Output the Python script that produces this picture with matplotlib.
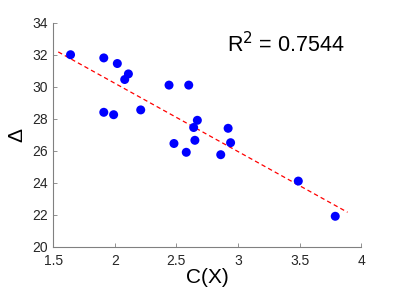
import numpy as np
import matplotlib
matplotlib.use("Agg")
import matplotlib.pyplot as plt

plt.rcParams["font.family"] = ["Liberation Sans", "DejaVu Sans"]

# complexity C(X) vs delta
cx = [1.64, 1.91, 2.02, 2.11, 2.08, 1.91, 1.99, 2.21, 2.44, 2.60,
      2.67, 2.64, 2.65, 2.48, 2.58, 2.92, 2.94, 2.86, 3.49, 3.79]
delta = [32.0, 31.8, 31.45, 30.8, 30.45, 28.4, 28.25, 28.55, 30.1, 30.1,
         27.9, 27.45, 26.65, 26.45, 25.9, 27.4, 26.5, 25.75, 24.1, 21.9]
r2_text = "0.7544"

x_ticks = [1.5, 2, 2.5, 3, 3.5, 4]
y_ticks = [20, 22, 24, 26, 28, 30, 32, 34]

cx = np.array(cx)
delta = np.array(delta)

fig = plt.figure(figsize=(3.99, 2.99), dpi=100)
ax = fig.add_axes([0.1336, 0.175, 0.7714, 0.749])

# least-squares line, drawn a bit past the data on both ends
slope, icpt = np.polyfit(cx, delta, 1)
xf = np.array([cx.min() - 0.1, cx.max() + 0.1])
ax.plot(xf, slope * xf + icpt, color="red", ls=(0, (3.5, 2.5)), lw=0.9)

ax.scatter(cx, delta, s=42, color="#0000ff", edgecolors="none", zorder=3)

ax.text(0.565, 0.87, r"R$^2$ = " + r2_text, transform=ax.transAxes,
        fontsize=15.5, color="black")

ax.set_xlim(1.5, 4)
ax.set_ylim(20, 34)
ax.set_xticks(x_ticks)
ax.set_xticklabels([f"{t:g}" for t in x_ticks])
ax.set_yticks(y_ticks)
ax.set_xlabel("C(X)", fontsize=15, labelpad=0)
ax.set_ylabel("Δ", fontsize=15, labelpad=4)

for side in ("top", "right"):
    ax.spines[side].set_visible(False)
for side in ("left", "bottom"):
    ax.spines[side].set_color("#808080")
    ax.spines[side].set_linewidth(0.8)
ax.tick_params(direction="in", length=3, width=0.6, color="#808080",
               labelsize=10, labelcolor="#262626")
ax.tick_params(axis="x", pad=5)
ax.tick_params(axis="y", pad=4)

fig.savefig("out.png", dpi=100)
